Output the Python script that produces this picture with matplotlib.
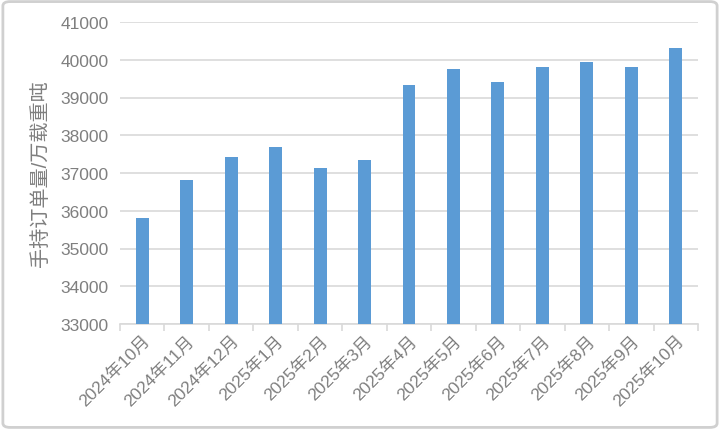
import numpy as np
import matplotlib.pyplot as plt
from matplotlib.patches import FancyBboxPatch

plt.rcParams['font.family'] = ['Liberation Sans', 'Noto Sans CJK SC', 'DejaVu Sans']

meses = ['2024年10月', '2024年11月', '2024年12月', '2025年1月', '2025年2月', '2025年3月',
         '2025年4月', '2025年5月', '2025年6月', '2025年7月', '2025年8月', '2025年9月', '2025年10月']
pedidos = [35800, 36820, 37430, 37680, 37120, 37350,
           39330, 39760, 39400, 39810, 39940, 39810, 40300]

gris = '#7f7f7f'
azul = '#5b9bd5'

fig = plt.figure(figsize=(7.2, 4.31), dpi=100)
ax = fig.add_axes([120/720, 1 - 325/431, (698-120)/720, (325-23)/431])

x = np.arange(len(meses))
ax.bar(x, pedidos, width=0.29, color=azul, zorder=3)

ax.set_ylim(33000, 41000)
ax.set_yticks(np.arange(33000, 41001, 1000))
ax.set_xlim(-0.5, len(meses) - 0.5)
ax.set_xticks(x)
ax.set_xticklabels(meses, rotation=45, ha='right', rotation_mode='anchor')
ax.set_xticks(np.arange(-0.5, len(meses), 1), minor=True)

ax.grid(axis='y', color='#d9d9d9', linewidth=1.2, zorder=0)
for s in ['top', 'right', 'left']:
    ax.spines[s].set_visible(False)
ax.spines['bottom'].set_color('#d9d9d9')
ax.spines['bottom'].set_linewidth(1.2)

ax.tick_params(axis='y', length=0, labelsize=12.5, labelcolor=gris, pad=8)
ax.tick_params(axis='x', which='major', length=0, labelsize=12.5, labelcolor=gris, pad=6)
ax.tick_params(axis='x', which='minor', length=5, color='#d9d9d9', width=1.2)

ax.set_ylabel('手持订单量/万载重吨', fontsize=14.5, color=gris, labelpad=8)

fig.patches.append(FancyBboxPatch((0.004, 0.006), 0.992, 0.988,
                                  boxstyle='round,pad=0,rounding_size=0.01',
                                  transform=fig.transFigure, fill=False,
                                  edgecolor='#d0d0d0', linewidth=2))

fig.savefig('out.png', dpi=100)
